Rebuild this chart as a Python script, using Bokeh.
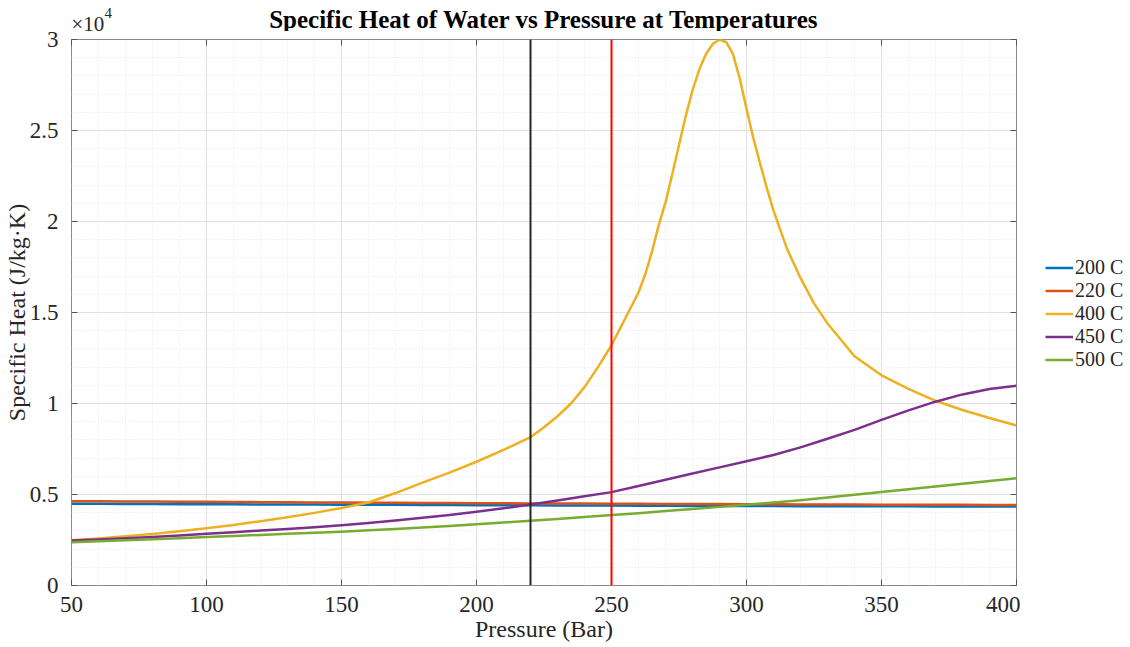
from bokeh.plotting import figure
from bokeh.layouts import column, row
from bokeh.models import (Range1d, SingleIntervalTicker, CustomJSTickFormatter, Legend, LegendItem,
                          Span, Label, LinearAxis)
from bokeh.embed import file_html
from bokeh.resources import INLINE

# ---------------- data ----------------
pressure = [50, 60, 70, 80, 90, 100, 110, 120, 130, 140, 150, 160, 170, 180, 190, 200,
            210, 220, 230, 240, 250, 260, 270, 280, 290, 300, 310, 320, 330, 340, 350,
            360, 370, 380, 390, 400]

cp_200 = [4490, 4485, 4480, 4475, 4470, 4465, 4460, 4455, 4450, 4445, 4440, 4435, 4430, 4425,
          4420, 4415, 4410, 4405, 4400, 4395, 4390, 4385, 4380, 4375, 4370, 4365, 4362, 4358,
          4355, 4352, 4350, 4348, 4346, 4344, 4342, 4340]

cp_220 = [4630, 4623, 4616, 4609, 4602, 4595, 4588, 4581, 4574, 4567, 4560, 4553, 4546, 4539,
          4532, 4525, 4518, 4511, 4505, 4499, 4493, 4487, 4482, 4477, 4472, 4467, 4462, 4457,
          4452, 4447, 4443, 4439, 4435, 4431, 4427, 4423]

cp_450 = [2470, 2530, 2600, 2670, 2750, 2840, 2930, 3020, 3110, 3200, 3310, 3430, 3570, 3720,
          3880, 4050, 4240, 4450, 4670, 4900, 5130, 5470, 5810, 6150, 6490, 6830, 7170, 7590,
          8060, 8550, 9100, 9620, 10100, 10500, 10800, 10970]

cp_500 = [2380, 2430, 2480, 2540, 2600, 2660, 2720, 2780, 2840, 2900, 2960, 3040, 3110, 3190,
          3270, 3360, 3460, 3560, 3660, 3760, 3870, 3975, 4090, 4200, 4320, 4440, 4560, 4690,
          4830, 4980, 5140, 5290, 5440, 5590, 5740, 5890]

pressure_400 = [50, 60, 70, 80, 90, 100, 110, 120, 130, 140, 150, 160, 170, 180, 190, 200,
                210, 220, 225, 230, 235, 240, 245, 250, 255, 260, 262.5, 265, 267.5, 270,
                272.5, 275, 277.5, 280, 282.5, 285, 287.5, 290, 292.5, 295, 297.5, 300,
                302.5, 305, 307.5, 310, 315, 320, 325, 330, 340, 350, 360, 370, 380, 390, 400]
cp_400 = [2480, 2580, 2700, 2830, 2980, 3150, 3330, 3530, 3750, 3990, 4260, 4560, 5080, 5650,
          6200, 6800, 7450, 8150, 8700, 9300, 10000, 10900, 12000, 13200, 14650, 16100, 17100,
          18350, 19800, 21050, 22600, 24200, 25800, 27200, 28350, 29200, 29750, 30000, 29850,
          29200, 27850, 26200, 24600, 23200, 21850, 20600, 18500, 16900, 15500, 14400, 12600,
          11550, 10800, 10150, 9640, 9200, 8790]

series_labels = ["200 C", "220 C", "400 C", "450 C", "500 C"]
series_colors = ["#0072BD", "#D95319", "#EDB120", "#7E2F8E", "#77AC30"]

ref_pressures = [220, 250]
ref_colors = ["#262626", "#FF0000"]

x_ticks_interval = 50
y_ticks_interval = 5000

title_text = "Specific Heat of Water vs Pressure at Temperatures"
x_label = "Pressure (Bar)"
y_label = "Specific Heat (J/kg\u00b7K)"

FONT = "Liberation Serif"
TEXT_COLOR = "#262626"

# ---------------- header strip: title + axis exponent ----------------
HDR_H = 31
header = figure(width=1130, height=HDR_H, output_backend="svg", toolbar_location=None,
                x_range=Range1d(0, 1130), y_range=Range1d(0, HDR_H), min_border=0)
header.axis.visible = False
header.grid.visible = False
header.outline_line_color = None
header.background_fill_color = "white"
header.border_fill_color = "white"
header.add_layout(Label(x=543.5, y=12, text=title_text, text_align="center",
                        text_baseline="alphabetic", text_font=FONT, text_font_size="25px",
                        text_font_style="bold", text_color="#000000"))
header.add_layout(Label(x=71, y=8, text="\u00d710", text_align="left",
                        text_baseline="alphabetic", text_font=FONT, text_font_size="21px",
                        text_color=TEXT_COLOR))
header.add_layout(Label(x=104, y=19, text="4", text_align="left",
                        text_baseline="alphabetic", text_font=FONT, text_font_size="15px",
                        text_color=TEXT_COLOR))

# ---------------- main plot ----------------
p = figure(width=1020, height=647 - HDR_H, output_backend="svg", toolbar_location=None,
           x_range=Range1d(50, 400), y_range=Range1d(0, 30000),
           min_border_left=69, min_border_right=2, min_border_top=8, min_border_bottom=62)
p.background_fill_color = "white"
p.border_fill_color = "white"
p.outline_line_color = "#8a8a8a"
p.outline_line_width = 1

xb = p.below[0]
yl = p.left[0]
xb.ticker = SingleIntervalTicker(interval=x_ticks_interval, num_minor_ticks=5)
yl.ticker = SingleIntervalTicker(interval=y_ticks_interval, num_minor_ticks=5)
yl.formatter = CustomJSTickFormatter(code="return (tick/1e4).toString();")

for ax in [xb, yl]:
    ax.axis_line_color = None
    ax.major_tick_in = 6
    ax.major_tick_out = 0
    ax.major_tick_line_color = "#555555"
    ax.minor_tick_line_color = None
    ax.major_label_text_font = FONT
    ax.major_label_text_font_size = "23px"
    ax.major_label_text_color = TEXT_COLOR
    ax.axis_label_text_font = FONT
    ax.axis_label_text_font_style = "normal"
    ax.axis_label_text_color = TEXT_COLOR

xb.axis_label = x_label
yl.axis_label = y_label
xb.axis_label_text_font_size = "24px"
yl.axis_label_text_font_size = "24px"
xb.major_label_standoff = 7
yl.major_label_standoff = 9
xb.axis_label_standoff = 1
yl.axis_label_standoff = -3

# mirrored axes (top / right) carrying only inward ticks, like a boxed MATLAB axis
for side, interval in (("above", x_ticks_interval), ("right", y_ticks_interval)):
    ax = LinearAxis(ticker=SingleIntervalTicker(interval=interval),
                    formatter=CustomJSTickFormatter(code="return '';"),
                    major_label_standoff=0, major_label_text_font_size="0px",
                    axis_line_color=None, minor_tick_line_color=None,
                    major_tick_in=6, major_tick_out=0, major_tick_line_color="#555555")
    p.add_layout(ax, side)

p.xgrid.grid_line_color = "#e1e1e1"
p.ygrid.grid_line_color = "#e1e1e1"
p.xgrid.minor_grid_line_color = "#e6e6e6"
p.ygrid.minor_grid_line_color = "#e6e6e6"
p.xgrid.minor_grid_line_dash = "1 2"
p.ygrid.minor_grid_line_dash = "1 2"

data_sets = [(pressure, cp_200), (pressure, cp_220), (pressure_400, cp_400),
             (pressure, cp_450), (pressure, cp_500)]
for (xs, ys), c in zip(data_sets, series_colors):
    p.line(xs, ys, line_color=c, line_width=2.5, line_join="round")

for loc, c in zip(ref_pressures, ref_colors):
    p.add_layout(Span(location=loc, dimension="height", line_color=c, line_width=2))

# ---------------- legend strip (right) ----------------
LEG_W = 1130 - 1020
leg = figure(width=LEG_W, height=647 - HDR_H, output_backend="svg", toolbar_location=None,
             x_range=Range1d(0, 1), y_range=Range1d(0, 1), min_border=0)
leg.axis.visible = False
leg.grid.visible = False
leg.outline_line_color = None
leg.background_fill_color = "white"
leg.border_fill_color = "white"
# legend swatches only (a single NaN point draws nothing in the strip itself)
swatches = [leg.line([float("nan")], [float("nan")], line_color=c, line_width=2.5)
            for c in series_colors]
legend = Legend(items=[LegendItem(label=l, renderers=[r]) for l, r in zip(series_labels, swatches)],
                location=(25, 214), orientation="vertical")
legend.label_text_font = FONT
legend.label_text_font_size = "20px"
legend.label_text_color = TEXT_COLOR
legend.glyph_width = 28
legend.glyph_height = 23
legend.label_height = 23
legend.label_standoff = 2
legend.spacing = 0
legend.padding = 0
legend.margin = 0
legend.border_line_color = None
legend.background_fill_alpha = 0
leg.add_layout(legend, "center")

layout = column(header, row(p, leg, spacing=0), spacing=0)
open("out.html", "w").write(file_html(layout, INLINE))
